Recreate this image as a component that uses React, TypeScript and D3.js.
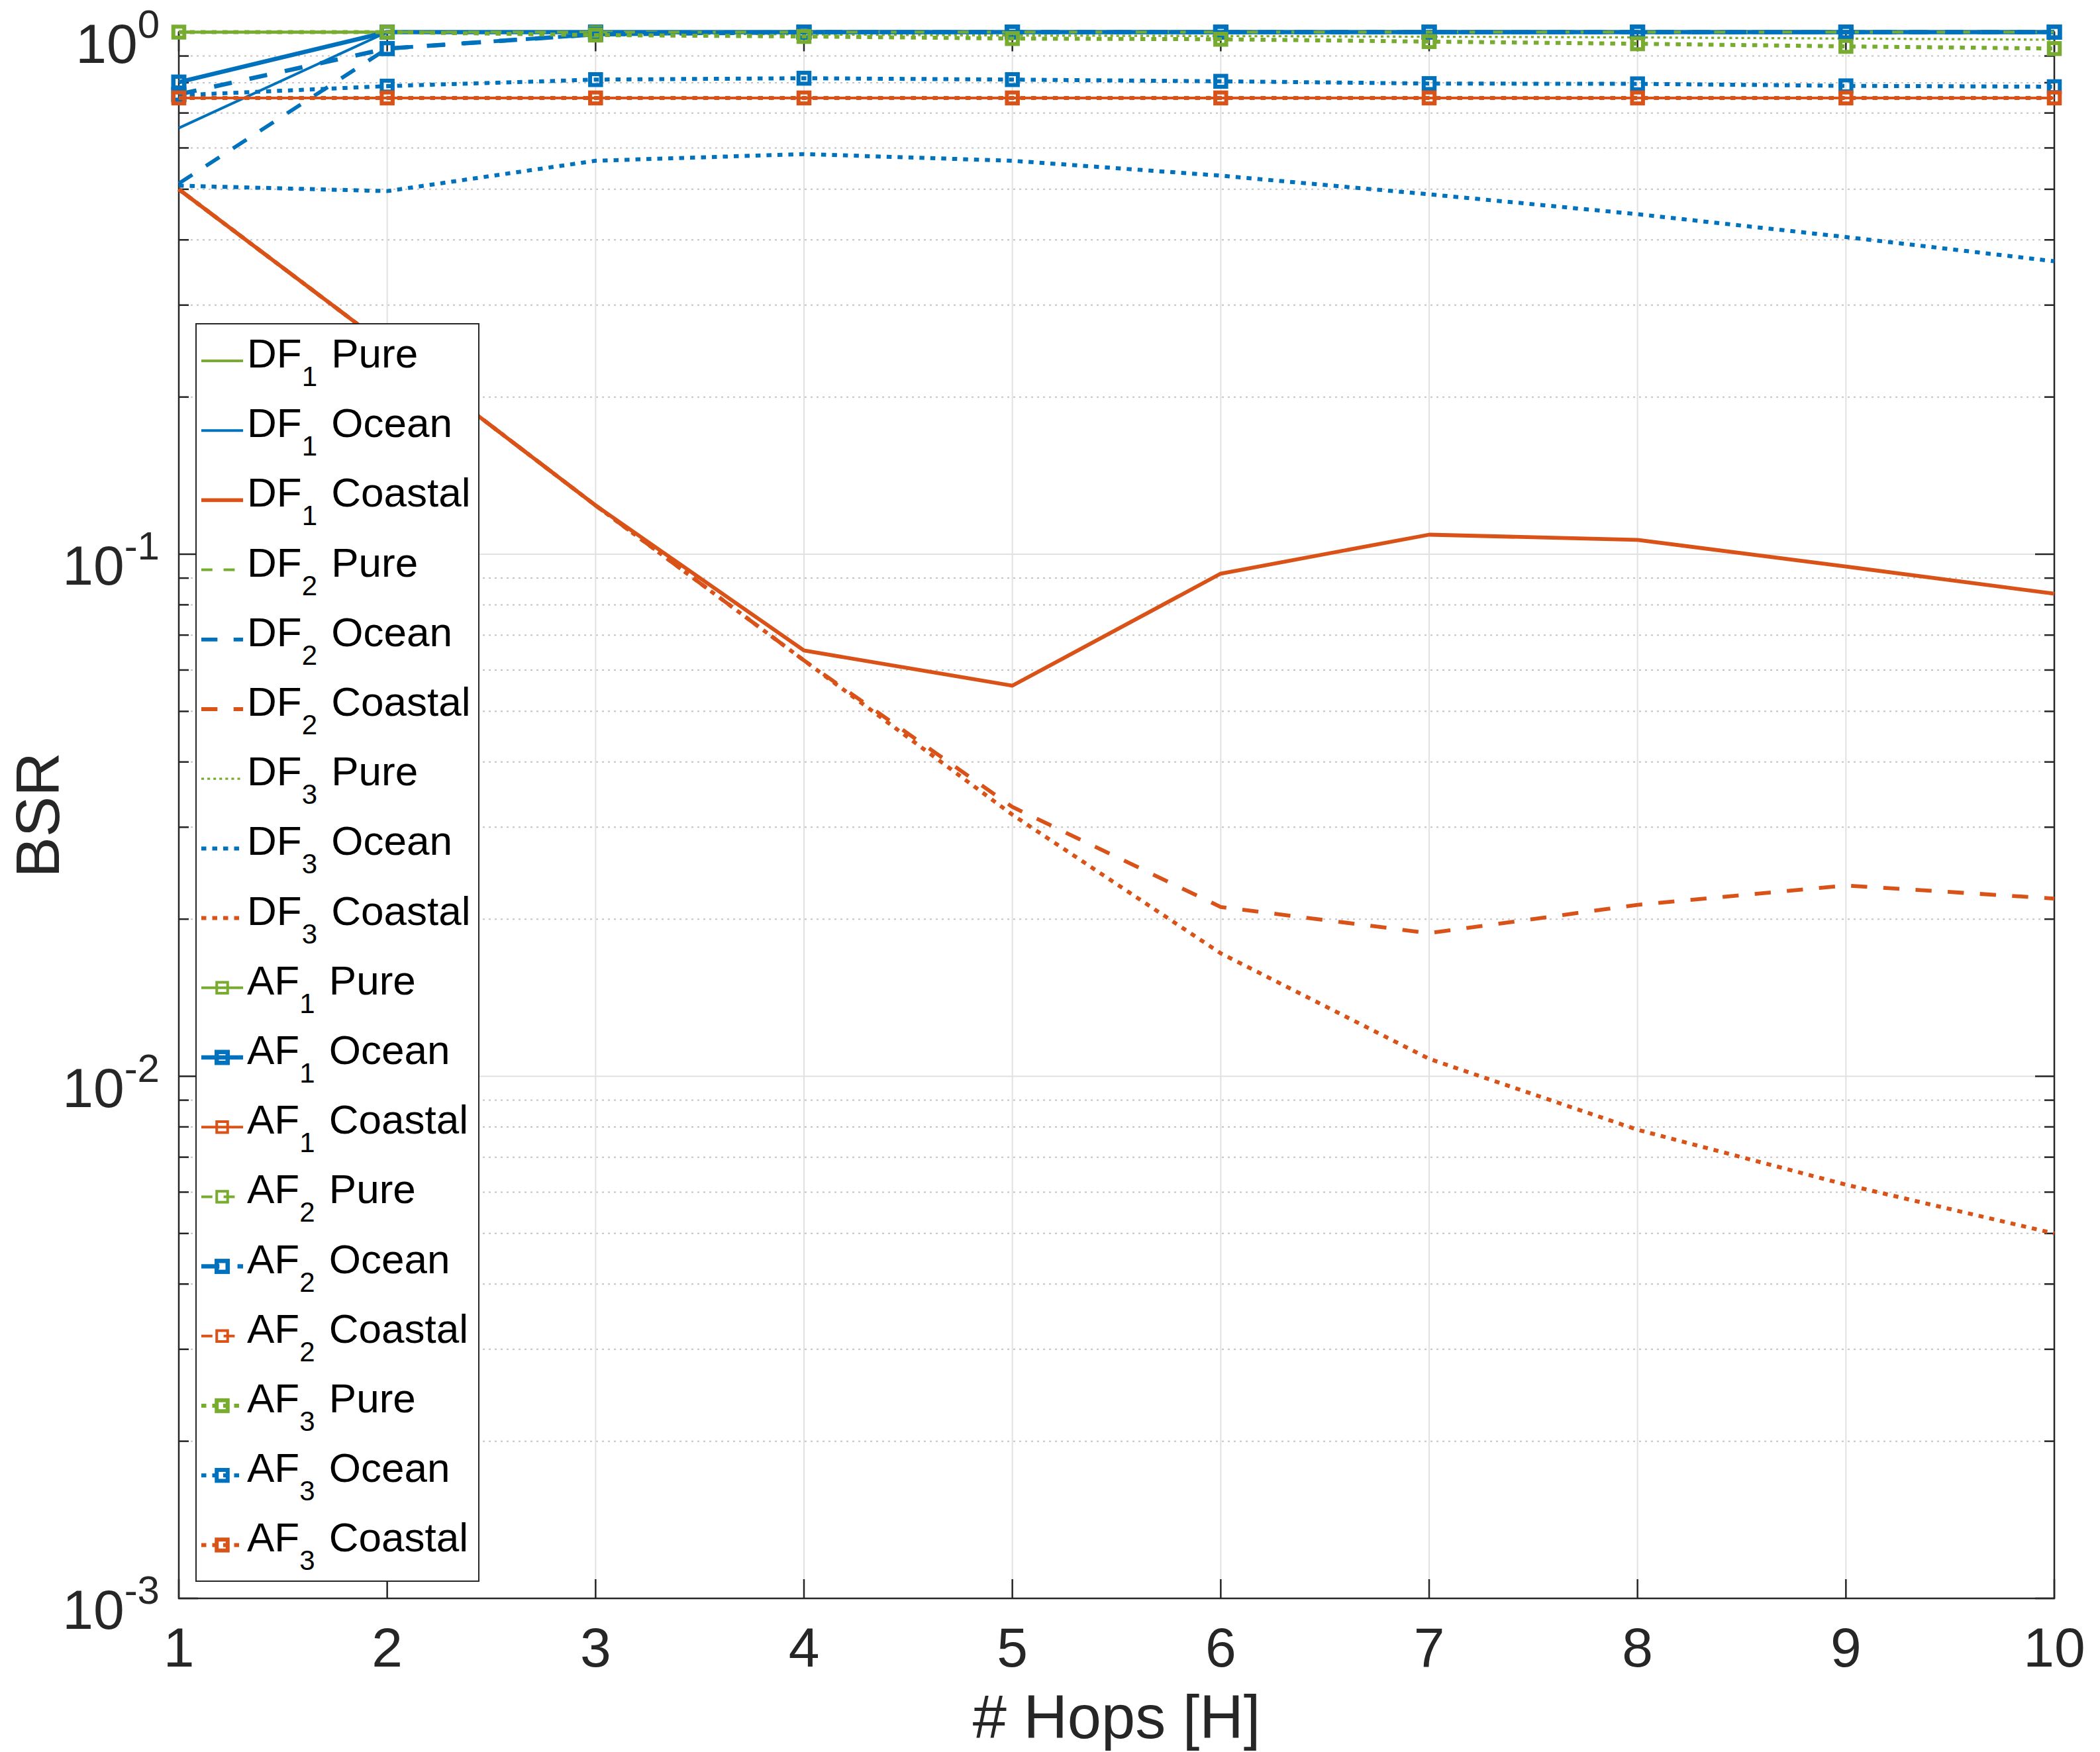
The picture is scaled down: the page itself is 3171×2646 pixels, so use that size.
import * as d3 from "d3";

// x: number of hops
const hops = [1, 2, 3, 4, 5, 6, 7, 8, 9, 10];

// BSR values
const df1Pure = [1, 1, 1, 1, 1, 1, 1, 1, 1, 1];
const df1Ocean = [0.655, 1, 1, 1, 1, 1, 1, 1, 1, 1];
const df1Coastal = [0.5, 0.25, 0.124, 0.0654, 0.056, 0.0918, 0.109, 0.1065, 0.0947, 0.084];
const df2Pure = [1, 1, 1, 1, 1, 1, 1, 1, 1, 1];
const df2Ocean = [0.513, 0.93, 0.99, 1, 1, 1, 1, 1, 1, 1];
const df2Coastal = [0.5, 0.25, 0.124, 0.0626, 0.0328, 0.0211, 0.0188, 0.0213, 0.0232, 0.0219];
const df3Pure = [1, 1, 0.996, 0.99, 0.985, 0.983, 0.98, 0.977, 0.972, 0.967];
const df3Ocean = [0.508, 0.496, 0.567, 0.584, 0.567, 0.531, 0.489, 0.448, 0.405, 0.364];
const df3Coastal = [0.5, 0.25, 0.124, 0.0626, 0.0317, 0.0172, 0.0108, 0.0079, 0.0062, 0.005];
const af1Pure = [1, 1, 1, 1, 1, 1, 1, 1, 1, 1];
const af1Ocean = [0.802, 1, 1, 1, 1, 1, 1, 1, 1, 1];
const af1Coastal = [0.748, 0.748, 0.748, 0.748, 0.748, 0.748, 0.748, 0.748, 0.748, 0.748];
const af2Pure = [1, 1, 1, 1, 1, 1, 1, 1, 1, 1];
const af2Ocean = [0.76, 0.93, 0.99, 1, 1, 1, 1, 1, 1, 1];
const af2Coastal = [0.748, 0.748, 0.748, 0.748, 0.748, 0.748, 0.748, 0.748, 0.748, 0.748];
const af3Pure = [1, 1, 0.987, 0.981, 0.972, 0.969, 0.959, 0.95, 0.939, 0.93];
const af3Ocean = [0.757, 0.788, 0.811, 0.816, 0.811, 0.805, 0.797, 0.796, 0.789, 0.786];
const af3Coastal = [0.748, 0.748, 0.748, 0.748, 0.748, 0.748, 0.748, 0.748, 0.748, 0.748];

const xTicks = [1, 2, 3, 4, 5, 6, 7, 8, 9, 10];
const yExponents = [-3, -2, -1, 0];

const colors: Record<string, string> = { Pure: "#77AC30", Ocean: "#0072BD", Coastal: "#D95319" };

type Series = {
  scheme: string;
  sub: string;
  env: string;
  values: number[];
  dash: "solid" | "dashed" | "dotted";
  w: number;
  marker: boolean;
};

const series: Series[] = [
  { scheme: "DF", sub: "1", env: "Pure", values: df1Pure, dash: "solid", w: 4, marker: false },
  { scheme: "DF", sub: "1", env: "Ocean", values: df1Ocean, dash: "solid", w: 4, marker: false },
  { scheme: "DF", sub: "1", env: "Coastal", values: df1Coastal, dash: "solid", w: 5.8, marker: false },
  { scheme: "DF", sub: "2", env: "Pure", values: df2Pure, dash: "dashed", w: 4, marker: false },
  { scheme: "DF", sub: "2", env: "Ocean", values: df2Ocean, dash: "dashed", w: 5.8, marker: false },
  { scheme: "DF", sub: "2", env: "Coastal", values: df2Coastal, dash: "dashed", w: 5.8, marker: false },
  { scheme: "DF", sub: "3", env: "Pure", values: df3Pure, dash: "dotted", w: 3.3, marker: false },
  { scheme: "DF", sub: "3", env: "Ocean", values: df3Ocean, dash: "dotted", w: 6, marker: false },
  { scheme: "DF", sub: "3", env: "Coastal", values: df3Coastal, dash: "dotted", w: 6, marker: false },
  { scheme: "AF", sub: "1", env: "Pure", values: af1Pure, dash: "solid", w: 4, marker: true },
  { scheme: "AF", sub: "1", env: "Ocean", values: af1Ocean, dash: "solid", w: 6.5, marker: true },
  { scheme: "AF", sub: "1", env: "Coastal", values: af1Coastal, dash: "solid", w: 4, marker: true },
  { scheme: "AF", sub: "2", env: "Pure", values: af2Pure, dash: "dashed", w: 4, marker: true },
  { scheme: "AF", sub: "2", env: "Ocean", values: af2Ocean, dash: "dashed", w: 6.5, marker: true },
  { scheme: "AF", sub: "2", env: "Coastal", values: af2Coastal, dash: "dashed", w: 4, marker: true },
  { scheme: "AF", sub: "3", env: "Pure", values: af3Pure, dash: "dotted", w: 6, marker: true },
  { scheme: "AF", sub: "3", env: "Ocean", values: af3Ocean, dash: "dotted", w: 6, marker: true },
  { scheme: "AF", sub: "3", env: "Coastal", values: af3Coastal, dash: "dotted", w: 6, marker: true },
];

const W = 3171;
const H = 2646;
const left = 270, right = 3102, top = 48.5, bottom = 2414;
const axisColor = "#262626";
const font = "'Liberation Sans', Arial, Helvetica, sans-serif";

function dashArray(d: Series["dash"], w: number) {
  if (d === "dashed") return `${4.2 * w} ${4.2 * w}`;
  if (d === "dotted") return `${1.25 * w} ${1.5 * w}`;
  return undefined;
}

export default function App() {
  const x = d3.scaleLinear().domain([1, 10]).range([left, right]);
  const y = d3.scaleLog().domain([1e-3, 1]).range([bottom, top]);

  const line = d3
    .line<number>()
    .x((_, i) => x(hops[i]))
    .y((d) => y(d));

  const minors: number[] = [];
  for (let e = -3; e < 0; e++) for (let k = 2; k <= 9; k++) minors.push(k * Math.pow(10, e));

  const mk = 16.5; // marker side
  const legX = 296, legY = 489, legW = 427, legH = 1899;
  const rowY = (i: number) => 545 + i * 105.2;

  return (
    <svg
      width={W}
      height={H}
      viewBox={`0 0 ${W} ${H}`}
      style={{ position: "absolute", left: 0, top: 0, background: "#fff" }}
      fontFamily={font}
    >
      <rect x={0} y={0} width={W} height={H} fill="#fff" />

      {/* grid */}
      <g>
        {minors.map((v) => (
          <line key={"mg" + v} x1={left} x2={right} y1={y(v)} y2={y(v)} stroke="#c4c4c4" strokeWidth={2} strokeDasharray="3 6" />
        ))}
        {yExponents.map((e) => (
          <line key={"yg" + e} x1={left} x2={right} y1={y(Math.pow(10, e))} y2={y(Math.pow(10, e))} stroke="#e1e1e1" strokeWidth={2} />
        ))}
        {xTicks.map((t) => (
          <line key={"xg" + t} x1={x(t)} x2={x(t)} y1={top} y2={bottom} stroke="#e1e1e1" strokeWidth={2} />
        ))}
      </g>

      {/* axes box + ticks */}
      <g stroke={axisColor} strokeWidth={2.5}>
        <rect x={left} y={top} width={right - left} height={bottom - top} fill="none" />
        {xTicks.map((t) => (
          <g key={"xt" + t}>
            <line x1={x(t)} x2={x(t)} y1={bottom} y2={bottom - 29} />
            <line x1={x(t)} x2={x(t)} y1={top} y2={top + 29} />
          </g>
        ))}
        {yExponents.map((e) => (
          <g key={"yt" + e}>
            <line x1={left} x2={left + 29} y1={y(Math.pow(10, e))} y2={y(Math.pow(10, e))} />
            <line x1={right} x2={right - 29} y1={y(Math.pow(10, e))} y2={y(Math.pow(10, e))} />
          </g>
        ))}
        {minors.map((v) => (
          <g key={"ymt" + v}>
            <line x1={left} x2={left + 15} y1={y(v)} y2={y(v)} />
            <line x1={right} x2={right - 15} y1={y(v)} y2={y(v)} />
          </g>
        ))}
      </g>

      {/* tick labels */}
      <g fill={axisColor}>
        {xTicks.map((t) => (
          <text key={"xl" + t} x={x(t)} y={2517} fontSize={84} textAnchor="middle">
            {t}
          </text>
        ))}
        {yExponents.map((e) => (
          <text key={"yl" + e} x={241} y={y(Math.pow(10, e)) + 46} fontSize={84} textAnchor="end">
            10
            <tspan fontSize={60} dy={-38}>
              {e}
            </tspan>
          </text>
        ))}
      </g>

      {/* axis labels */}
      <text x={1686} y={2625} fontSize={92} textAnchor="middle" fill={axisColor}>
        # Hops [H]
      </text>
      <text x={89} y={1231} fontSize={92} textAnchor="middle" fill={axisColor} transform="rotate(-90 89 1231)">
        BSR
      </text>

      {/* series */}
      {series.map((s, i) => (
        <g key={"s" + i}>
          <path
            d={line(s.values) || ""}
            fill="none"
            stroke={colors[s.env]}
            strokeWidth={s.w}
            strokeDasharray={dashArray(s.dash, s.w)}
            strokeLinejoin="round"
          />
          {s.marker &&
            s.values.map((v, j) => (
              <rect
                key={j}
                x={x(hops[j]) - mk / 2}
                y={y(v) - mk / 2}
                width={mk}
                height={mk}
                fill="none"
                stroke={colors[s.env]}
                strokeWidth={s.w}
              />
            ))}
        </g>
      ))}

      {/* legend */}
      <g>
        <rect x={legX} y={legY} width={legW} height={legH} fill="#fff" stroke={axisColor} strokeWidth={2} />
        {series.map((s, i) => {
          const ly = rowY(i);
          return (
            <g key={"lg" + i}>
              <line
                x1={304}
                x2={367}
                y1={ly}
                y2={ly}
                stroke={colors[s.env]}
                strokeWidth={s.w}
                strokeDasharray={dashArray(s.dash, s.w)}
              />
              {s.marker && (
                <rect x={335.5 - mk / 2} y={ly - mk / 2} width={mk} height={mk} fill="none" stroke={colors[s.env]} strokeWidth={s.w} />
              )}
              <text x={373} y={ly + 10} fontSize={62} fill="#000">
                {s.scheme}
                <tspan fontSize={42} dy={28}>
                  {s.sub}
                </tspan>
                <tspan dy={-28} dx={4}>
                  {" " + s.env}
                </tspan>
              </text>
            </g>
          );
        })}
      </g>
    </svg>
  );
}
